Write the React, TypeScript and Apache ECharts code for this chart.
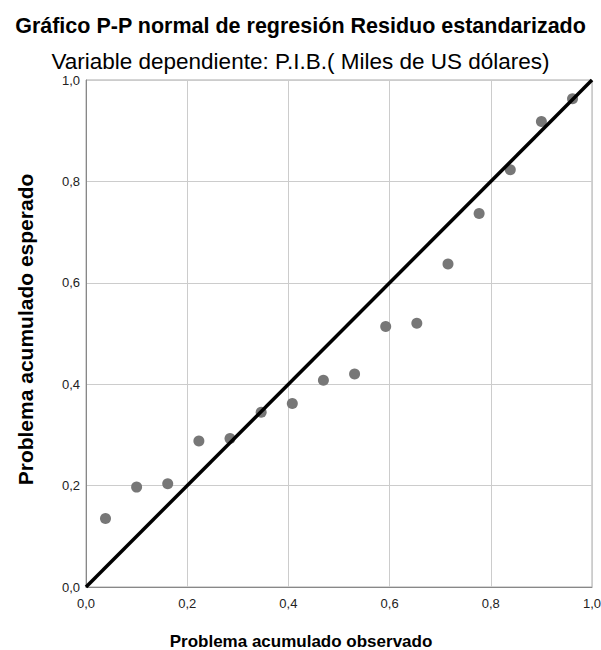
import React, { useEffect, useRef } from "react";
import * as echarts from "echarts";

const titleMain = "Gráfico P-P normal de regresión Residuo estandarizado";
const titleSub = "Variable dependiente: P.I.B.( Miles de US dólares)";
const xName = "Problema acumulado observado";
const yName = "Problema acumulado esperado";

const observed = [0.0385, 0.1, 0.1615, 0.2231, 0.2846, 0.3462, 0.4077, 0.4692, 0.5308, 0.5923, 0.6538, 0.7154, 0.7769, 0.8385, 0.9, 0.9615];
const expected = [0.135, 0.197, 0.2035, 0.288, 0.293, 0.3445, 0.362, 0.408, 0.42, 0.514, 0.52, 0.637, 0.7365, 0.823, 0.918, 0.963];
const refLine = [[0, 0], [1, 1]];

const FONT = "Arial, 'Liberation Sans', sans-serif";
const fmt = (v: number) => v.toFixed(1).replace(".", ",");

export default function App() {
  const ref = useRef<HTMLDivElement>(null);
  useEffect(() => {
    if (!ref.current) return;
    const chart = echarts.init(ref.current, null, { renderer: "svg" });
    chart.setOption({
      animation: false,
      backgroundColor: "#fff",
      title: [
        {
          text: titleMain,
          left: "center",
          top: 10,
          textStyle: { fontFamily: FONT, fontSize: 21.5, fontWeight: "bold", color: "#000" },
        },
        {
          text: titleSub,
          left: "center",
          top: 44,
          textStyle: { fontFamily: FONT, fontSize: 22.5, fontWeight: "normal", color: "#000", lineHeight: 24 },
        },
      ],
      grid: {
        left: 86,
        right: 9,
        top: 80,
        bottom: 63,
        show: true,
        borderColor: "#aaa",
        borderWidth: 1,
        containLabel: false,
        outerBoundsMode: "none",
      },
      xAxis: {
        type: "value",
        min: 0,
        max: 1,
        interval: 0.2,
        name: xName,
        nameLocation: "middle",
        nameGap: 47,
        nameTextStyle: { fontFamily: FONT, fontSize: 17, lineHeight: 15, fontWeight: "bold", color: "#000", padding: [0, 76, 0, 0] },
        axisLine: { show: true, lineStyle: { color: "#888", width: 1 } },
        axisTick: { show: false },
        axisLabel: { fontFamily: FONT, fontSize: 13, color: "#222", margin: 10, formatter: fmt },
        splitLine: { show: true, lineStyle: { color: "#ccc", width: 1 } },
      },
      yAxis: {
        type: "value",
        min: 0,
        max: 1,
        interval: 0.2,
        name: yName,
        nameLocation: "middle",
        nameRotate: 90,
        nameGap: 50,
        nameTextStyle: { fontFamily: FONT, fontSize: 21, fontWeight: "bold", color: "#000", padding: [0, 0, 0, 8] },
        axisLine: { show: true, lineStyle: { color: "#888", width: 1 } },
        axisTick: { show: false },
        axisLabel: { fontFamily: FONT, fontSize: 13, color: "#222", margin: 6, formatter: fmt, padding: [5, 0, 0, 0] },
        splitLine: { show: true, lineStyle: { color: "#ccc", width: 1 } },
      },
      series: [
        {
          type: "line",
          data: refLine,
          symbol: "none",
          lineStyle: { color: "#000", width: 3.5 },
          z: 3,
        },
        {
          type: "scatter",
          data: observed.map((x, i) => [x, expected[i]]),
          symbol: "circle",
          symbolSize: 11,
          itemStyle: { color: "#777", opacity: 1 },
          z: 2,
        },
      ],
    });
    return () => chart.dispose();
  }, []);
  return (
    <div
      ref={ref}
      style={{ position: "absolute", left: 0, top: 0, width: 601, height: 650 }}
    />
  );
}
